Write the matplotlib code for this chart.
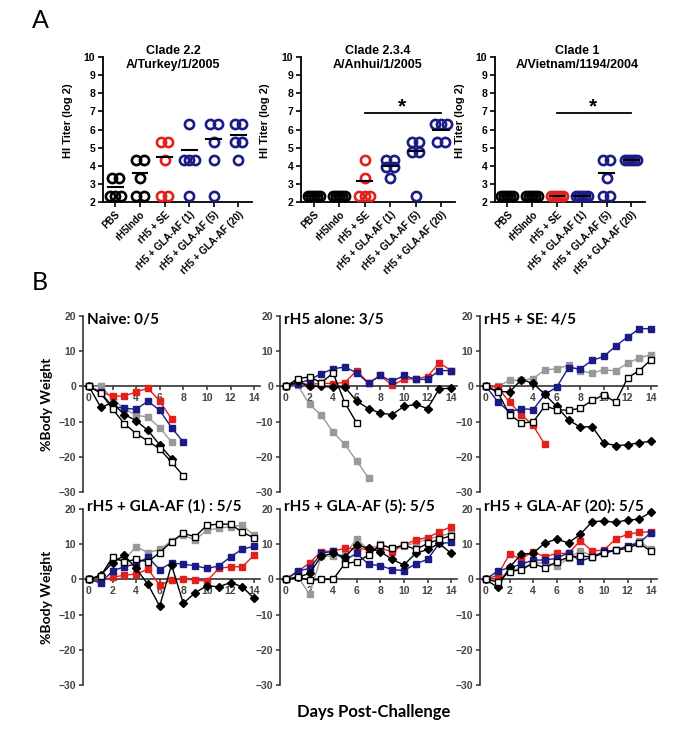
import matplotlib
matplotlib.use('Agg')
import matplotlib.pyplot as plt
import numpy as np

# ---- Panel A: HI titers (log2), 5 mice per group ----
groups = ['PBS', 'rH5Indo', 'rH5 + SE', 'rH5 + GLA-AF (1)', 'rH5 + GLA-AF (5)', 'rH5 + GLA-AF (20)']
navy = '#1b1b86'
red = '#e3201c'
group_colors = ['black', 'black', red, navy, navy, navy]

clade22 = [[3.32, 3.32, 2.32, 2.32, 2.32],
           [4.32, 4.32, 3.32, 2.32, 2.32],
           [5.32, 5.32, 4.32, 2.32, 2.32],
           [6.32, 4.32, 4.32, 4.32, 2.32],
           [6.32, 6.32, 5.32, 4.32, 2.32],
           [6.32, 6.32, 5.32, 5.32, 4.32]]
clade234 = [[2.32] * 5,
            [2.32] * 5,
            [4.32, 3.32, 2.32, 2.32, 2.32],
            [4.32, 4.32, 3.91, 3.91, 3.32],
            [5.32, 5.32, 4.75, 4.75, 2.32],
            [6.32, 6.32, 6.32, 5.32, 5.32]]
clade1 = [[2.32] * 5,
          [2.32] * 5,
          [2.32] * 5,
          [2.32] * 5,
          [4.32, 4.32, 3.32, 2.32, 2.32],
          [4.32] * 5]
titles_a = ['Clade 2.2\nA/Turkey/1/2005', 'Clade 2.3.4\nA/Anhui/1/2005', 'Clade 1\nA/Vietnam/1194/2004']

# ---- Panel B: % body weight after challenge ----
days = np.arange(15)
naive = {'gray': [0, 0, -3.5, -6.3, -8.2, -8.7, -11.7, -15.8],
         'red': [0, -1.5, -2.8, -2.7, -1.6, -0.5, -4.2, -9.2],
         'blue': [0, -1.7, -5.7, -6.2, -6.5, -4.2, -6.8, -11.7, -15.8],
         'diamond': [0, -5.9, -4.7, -8.0, -9.7, -12.5, -16.6, -20.5],
         'open': [0, -1.9, -6.4, -10.6, -13.4, -15.5, -17.8, -21.5, -25.4]}
alone = {'gray': [0, 0.3, -5.1, -8.2, -13.0, -16.5, -21.2, -26.0],
         'red': [0, 1.0, 0.5, 0.9, 0.8, 1.1, 4.5, 0.9, 3.1, 0.3, 2.0, 2.2, 2.8, 6.7, 4.5],
         'blue': [0, 0.8, 1.9, 3.6, 5.0, 5.5, 3.9, 0.9, 3.1, 1.4, 3.1, 2.0, 2.0, 4.5, 4.5],
         'diamond': [0, 1.4, 0, 0, -0.2, -0.2, -4.2, -6.3, -7.6, -8.0, -5.7, -5.1, -6.3, -0.7, -0.5],
         'open': [0, 2.2, 2.7, 1.1, 3.8, -4.7, -10.4]}
se = {'gray': [0, 0, 1.7, 1.7, 2.2, 4.7, 5.0, 6.0, 4.4, 3.8, 4.7, 4.4, 6.6, 8.1, 9.0],
      'red': [0, -0.2, -4.5, -8.0, -11.1, -16.5],
      'blue': [0, -4.3, -7.3, -6.3, -6.6, -2.3, -0.2, 5.3, 5.0, 7.4, 8.5, 11.5, 14.0, 16.4, 16.4],
      'diamond': [0, -1.4, -1.6, 1.9, 0.9, -2.3, -5.7, -9.5, -11.6, -11.4, -16.1, -16.8, -16.6, -16.0, -15.6],
      'open': [0, -1.6, -8.0, -10.4, -10.1, -5.6, -6.6, -6.8, -6.2, -4.0, -2.4, -4.5, 2.4, 4.5, 7.6]}
gla1 = {'gray': [0, 1.0, 5.5, 5.5, 9.3, 7.6, 8.5, 10.9, 12.6, 11.2, 14.0, 14.5, 15.0, 15.4, 12.5],
        'red': [0, -0.4, 0.6, 1.2, 1.5, 2.9, -1.6, -0.2, 0.1, -0.2, -0.5, 3.1, 3.6, 3.6, 6.9],
        'blue': [0, -1.0, 2.4, 3.6, 4.4, 6.3, 2.8, 4.7, 4.3, 3.9, 3.1, 3.8, 6.4, 8.6, 9.4],
        'diamond': [0, 1.2, 4.7, 6.9, 3.1, -1.4, -7.6, 4.1, -6.8, -3.8, -1.8, -2.1, -0.9, -2.1, -5.4],
        'open': [0, 1.0, 6.3, 5.0, 5.7, 5.0, 7.6, 10.7, 13.1, 12.1, 15.4, 15.7, 15.7, 13.4, 11.8]}
gla5 = {'gray': [0, 0.8, -4.2, 6.6, 6.6, 6.9, 11.6, 8.3, 10.0, 8.8, 9.5, 10.4, 11.4, 12.3, 13.1],
        'red': [0, 2.2, 4.7, 7.9, 8.1, 8.8, 8.8, 8.5, 8.8, 7.9, 9.8, 11.2, 11.9, 13.5, 15.0],
        'blue': [0, 2.4, 3.1, 7.4, 8.0, 5.5, 7.4, 4.3, 3.9, 2.8, 2.5, 4.4, 5.7, 10.2, 10.5],
        'diamond': [0, 0.6, 1.7, 6.6, 7.4, 6.4, 9.8, 8.8, 7.9, 5.7, 4.1, 7.4, 8.5, 10.2, 7.4],
        'open': [0, 0.6, -0.2, 0, 0, 4.5, 5.0, 6.9, 9.9, 8.8, 9.8, 8.5, 10.2, 11.4, 12.4]}
gla20 = {'gray': [0, -0.2, 2.5, 3.1, 4.7, 4.7, 3.8, 6.0, 8.1, 6.7, 7.6, 8.3, 9.3, 10.9, 8.5],
         'red': [0, 1.2, 7.2, 5.8, 7.9, 6.4, 7.4, 7.4, 11.0, 8.1, 8.3, 11.5, 12.8, 13.4, 13.5],
         'blue': [0, 2.4, 3.3, 4.3, 5.5, 5.5, 6.0, 7.6, 5.2, 6.3, 8.0, 8.3, 9.5, 10.4, 13.3],
         'diamond': [0, -2.3, 3.4, 7.2, 7.4, 10.4, 11.4, 10.4, 12.8, 16.4, 16.6, 16.2, 16.9, 17.1, 19.2],
         'open': [0, -0.7, 2.2, 2.8, 4.5, 3.3, 5.0, 6.3, 6.6, 6.4, 7.4, 8.3, 8.8, 10.2, 8.0]}
titles_b = ['Naive: 0/5', 'rH5 alone: 3/5', 'rH5 + SE: 4/5',
            'rH5 + GLA-AF (1) : 5/5', 'rH5 + GLA-AF (5): 5/5', 'rH5 + GLA-AF (20): 5/5']

W, H = 688, 730
fig = plt.figure(figsize=(W / 100, H / 100), dpi=100)
tick_font = 'Liberation Sans'
title_font = 'Lato'


def add_ax(left, top, right, bottom):
    return fig.add_axes([left / W, 1 - bottom / H, (right - left) / W, (bottom - top) / H])


def spread(vals):
    # horizontal jitter for tied values, like a column scatter plot
    vals = np.asarray(vals)
    offs = np.zeros(len(vals))
    for v in np.unique(vals):
        idx = np.where(vals == v)[0]
        n = len(idx)
        step = {1: 0, 2: 0.3, 3: 0.22, 4: 0.15}.get(n, 0.12)
        offs[idx] = (np.arange(n) - (n - 1) / 2) * step
    return offs


# ---------- Panel A ----------
a_boxes = [(103, 57, 252, 202), (301, 57, 455, 202), (495, 57, 645, 202)]
clades = [clade22, clade234, clade1]
title_x = [0.47, 0.5, 0.55]
for k, (box, data) in enumerate(zip(a_boxes, clades)):
    ax = add_ax(*box)
    for i, vals in enumerate(data):
        ax.plot(i + spread(vals), vals, 'o', ms=6.6, mfc='none', mec=group_colors[i], mew=1.9,
                clip_on=False, zorder=3)
        mean_val = np.log2(np.mean(2 ** np.asarray(vals)))
        ax.plot([i - 0.3, i + 0.3], [mean_val, mean_val], color='black', lw=1.5, zorder=4)
    ax.set_xlim(-0.5, 5.55)
    ax.set_ylim(2, 10)
    ax.set_yticks(range(2, 11))
    ax.set_xticks(range(len(groups)))
    ax.set_xticklabels(groups, rotation=45, ha='right', rotation_mode='anchor',
                       fontsize=7, fontweight='bold', family=tick_font)
    for lab in ax.get_yticklabels():
        lab.set_fontsize(7.5)
        lab.set_fontweight('bold')
        lab.set_family(tick_font)
    for s in ['top', 'right']:
        ax.spines[s].set_visible(False)
    for s in ['left', 'bottom']:
        ax.spines[s].set_linewidth(1.3)
    ax.tick_params(direction='out', length=3.5, width=1.2, pad=2)
    ax.set_ylabel('HI Titer (log 2)', fontsize=8, fontweight='bold', family=tick_font)
    ax.yaxis.set_label_coords(-0.2, 0.56)
    ax.text(title_x[k], 9.95, titles_a[k], transform=ax.get_yaxis_transform(),
            ha='center', va='center', fontsize=9,
            fontweight='bold', family=tick_font, linespacing=1.25)
    if k > 0:
        ax.plot([2, 5], [6.92, 6.92], color='black', lw=1.3)
        ax.text(3.45, 7.25, '*', ha='center', va='center', fontsize=15, fontweight='bold',
                family=tick_font)

fig.text(40 / W, 1 - 20 / H, 'A', fontsize=18, family=title_font, ha='center', va='center')
fig.text(40 / W, 1 - 283 / H, 'B', fontsize=18, family=title_font, ha='center', va='center')

# ---------- Panel B ----------
styles = {'gray': dict(color='#999999', marker='s', mfc='#999999', mec='#999999', ms=4.6),
          'red': dict(color=red, marker='s', mfc=red, mec=red, ms=4.6),
          'blue': dict(color=navy, marker='s', mfc=navy, mec=navy, ms=4.6),
          'diamond': dict(color='black', marker='D', mfc='black', mec='black', ms=3.8),
          'open': dict(color='black', marker='s', mfc='white', mec='black', ms=4.6, mew=1.0)}
b_lefts = [83, 280, 480]
b_rows = [(316, 492), (509, 685)]
panels = [naive, alone, se, gla1, gla5, gla20]
title_y = [19.0, 20.8]

for p, pdata in enumerate(panels):
    r, c = divmod(p, 3)
    top, bottom = b_rows[r]
    left = b_lefts[c]
    ax = add_ax(left, top, left + 177, bottom)
    for key in ['gray', 'red', 'blue', 'diamond', 'open']:
        vals = pdata[key]
        ax.plot(days[:len(vals)], vals, lw=1.0, clip_on=False, zorder=3, **styles[key])
    ax.set_xlim(-0.5, 14.5)
    ax.set_ylim(-30, 20)
    ax.set_xticks(range(0, 15, 2))
    ax.set_yticks(range(-30, 21, 10))
    ax.spines['bottom'].set_position(('data', 0))
    for s in ['top', 'right']:
        ax.spines[s].set_visible(False)
    for s in ['left', 'bottom']:
        ax.spines[s].set_linewidth(1.2)
        ax.spines[s].set_color('#333333')
    ax.tick_params(direction='out', length=3, width=1.1, pad=2, colors='#333333')
    for lab in ax.get_xticklabels() + ax.get_yticklabels():
        lab.set_fontsize(7.5)
        lab.set_family(tick_font)
        lab.set_fontweight('bold')
        lab.set_color('#444444')
    ax.text(0.02, title_y[r], titles_b[p], transform=ax.get_yaxis_transform(),
            ha='left', va='center', fontsize=11, fontweight='bold', family=title_font)
    if c == 0:
        ax.set_ylabel('%Body Weight', fontsize=10, fontweight='bold', family=title_font)
        ax.yaxis.set_label_coords(-0.17, 0.5)

fig.text(374 / W, 1 - 712 / H, 'Days Post-Challenge', ha='center', va='center',
         fontsize=12, fontweight='bold', family=title_font)

fig.savefig('out.png', dpi=100)
